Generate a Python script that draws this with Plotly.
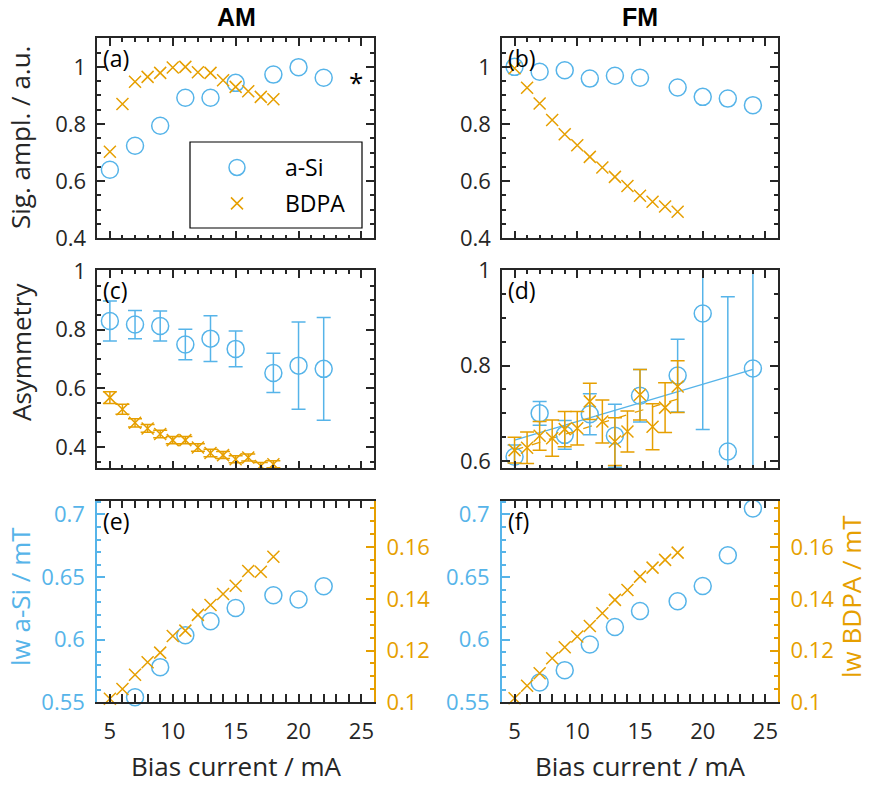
import plotly.graph_objects as go

# ---------------- data ----------------
current_bdpa = [5, 6, 7, 8, 9, 10, 11, 12, 13, 14, 15, 16, 17, 18]

# (a) AM signal amplitude
current_asi_am = [5, 7, 9, 11, 13, 15, 18, 20, 22]
amp_asi_am = [0.640, 0.724, 0.794, 0.892, 0.892, 0.944, 0.973, 0.999, 0.962]
amp_bdpa_am = [0.703, 0.870, 0.948, 0.965, 0.979, 0.998, 1.000, 0.981, 0.979,
               0.953, 0.930, 0.915, 0.895, 0.887]

# (b) FM signal amplitude
current_asi_fm = [5, 7, 9, 11, 13, 15, 18, 20, 22, 24]
amp_asi_fm = [1.000, 0.983, 0.988, 0.959, 0.969, 0.962, 0.928, 0.895, 0.889, 0.866]
amp_bdpa_fm = [0.995, 0.927, 0.872, 0.814, 0.764, 0.726, 0.685, 0.648, 0.615,
               0.583, 0.549, 0.528, 0.511, 0.493]

# (c) AM asymmetry
asym_asi_am = [0.829, 0.817, 0.812, 0.749, 0.769, 0.734, 0.652, 0.677, 0.666]
asym_asi_am_err = [0.068, 0.048, 0.051, 0.052, 0.078, 0.061, 0.067, 0.149, 0.175]
asym_bdpa_am = [0.568, 0.528, 0.482, 0.463, 0.444, 0.423, 0.423, 0.398, 0.379,
                0.372, 0.358, 0.364, 0.335, 0.341]
asym_bdpa_am_err = [0.020, 0.017, 0.014, 0.013, 0.013, 0.012, 0.012, 0.013, 0.013,
                    0.012, 0.012, 0.012, 0.012, 0.012]

# (d) FM asymmetry
asym_asi_fm = [0.609, 0.700, 0.655, 0.698, 0.653, 0.737, 0.779, 0.909, 0.620, 0.794]
asym_asi_fm_err = [0.025, 0.025, 0.030, 0.043, 0.066, 0.055, 0.076, 0.243, 0.324, 0.300]
asym_bdpa_fm = [0.623, 0.628, 0.653, 0.648, 0.667, 0.669, 0.725, 0.683, 0.641,
                0.662, 0.739, 0.672, 0.712, 0.756]
asym_bdpa_fm_err = [0.027, 0.033, 0.030, 0.038, 0.037, 0.035, 0.038, 0.045, 0.050,
                    0.043, 0.053, 0.048, 0.052, 0.054]
fit_asi_fm_x = [5, 24]
fit_asi_fm_y = [0.644, 0.792]
fit_bdpa_fm_x = [5, 18]
fit_bdpa_fm_y = [0.623, 0.730]

# (e) AM linewidths
current_lw_asi_am = [7, 9, 11, 13, 15, 18, 20, 22]
lw_asi_am = [0.554, 0.578, 0.6035, 0.6147, 0.6253, 0.6355, 0.632, 0.6427]
lw_bdpa_am = [0.1013, 0.1051, 0.1106, 0.1155, 0.1192, 0.1256, 0.1277, 0.1338,
              0.1376, 0.1419, 0.1451, 0.1508, 0.1505, 0.1563]

# (f) FM linewidths
current_lw_asi_fm = [7, 9, 11, 13, 15, 18, 20, 22, 24]
lw_asi_fm = [0.5657, 0.5756, 0.5961, 0.6101, 0.6229, 0.6307, 0.6429, 0.6674, 0.7047]
lw_bdpa_fm = [0.1015, 0.1064, 0.1112, 0.1170, 0.1213, 0.1254, 0.1295, 0.1344,
              0.1396, 0.1434, 0.1486, 0.1521, 0.1551, 0.1579]

panel_labels = ["(a)", "(b)", "(c)", "(d)", "(e)", "(f)"]
column_titles = ["AM", "FM"]

# ---------------- style ----------------
BLUE = "#56B4E9"
ORANGE = "#E69F00"
DARK = "#262626"
FONT = "Open Sans"
TICK_SIZE = 22
TITLE_SIZE = 26

W, H = 870, 785


def fx(px):
    return px / W


def fy(py):
    return 1 - py / H


col_x = [(97.3, 374.0), (502.0, 778.0)]
row_y = [(38.3, 238.3), (270.0, 468.3), (500.7, 702.2)]

circ = dict(symbol="circle-open", size=17, color=BLUE, line=dict(width=1.5, color=BLUE))
cross = dict(symbol="x-thin-open", size=12, color=ORANGE, line=dict(width=1.5, color=ORANGE))


def err(arr, color):
    return dict(type="data", array=arr, color=color, thickness=1.5, width=7, visible=True)


NB = "\u00a0"
fig = go.Figure()

# (a)
fig.add_trace(go.Scatter(x=current_asi_am, y=amp_asi_am, mode="markers", marker=circ,
                         name=NB * 3 + "a-Si", legendgroup="asi",
                         xaxis="x", yaxis="y", showlegend=True))
fig.add_trace(go.Scatter(x=current_bdpa, y=amp_bdpa_am, mode="markers", marker=cross,
                         name=NB * 3 + "BDPA", legendgroup="bdpa",
                         xaxis="x", yaxis="y", showlegend=True))
# (b)
fig.add_trace(go.Scatter(x=current_asi_fm, y=amp_asi_fm, mode="markers", marker=circ,
                         xaxis="x2", yaxis="y2", showlegend=False))
fig.add_trace(go.Scatter(x=current_bdpa, y=amp_bdpa_fm, mode="markers", marker=cross,
                         xaxis="x2", yaxis="y2", showlegend=False))
# (c)
fig.add_trace(go.Scatter(x=current_asi_am, y=asym_asi_am, mode="markers", marker=circ,
                         error_y=err(asym_asi_am_err, BLUE),
                         xaxis="x3", yaxis="y3", showlegend=False))
fig.add_trace(go.Scatter(x=current_bdpa, y=asym_bdpa_am, mode="markers", marker=cross,
                         error_y=err(asym_bdpa_am_err, ORANGE),
                         xaxis="x3", yaxis="y3", showlegend=False))
# (d)
fig.add_trace(go.Scatter(x=fit_asi_fm_x, y=fit_asi_fm_y, mode="lines",
                         line=dict(color=BLUE, width=1.3),
                         xaxis="x4", yaxis="y4", showlegend=False))
fig.add_trace(go.Scatter(x=fit_bdpa_fm_x, y=fit_bdpa_fm_y, mode="lines",
                         line=dict(color=ORANGE, width=1.3, dash="dash"),
                         xaxis="x4", yaxis="y4", showlegend=False))
fig.add_trace(go.Scatter(x=current_asi_fm, y=asym_asi_fm, mode="markers", marker=circ,
                         error_y=err(asym_asi_fm_err, BLUE),
                         xaxis="x4", yaxis="y4", showlegend=False))
fig.add_trace(go.Scatter(x=current_bdpa, y=asym_bdpa_fm, mode="markers", marker=cross,
                         error_y=err(asym_bdpa_fm_err, ORANGE),
                         xaxis="x4", yaxis="y4", showlegend=False))
# (e)
fig.add_trace(go.Scatter(x=current_lw_asi_am, y=lw_asi_am, mode="markers", marker=circ,
                         xaxis="x5", yaxis="y5", showlegend=False, cliponaxis=False))
fig.add_trace(go.Scatter(x=current_bdpa, y=lw_bdpa_am, mode="markers", marker=cross,
                         xaxis="x5", yaxis="y7", showlegend=False, cliponaxis=False))
# (f)
fig.add_trace(go.Scatter(x=current_lw_asi_fm, y=lw_asi_fm, mode="markers", marker=circ,
                         xaxis="x6", yaxis="y6", showlegend=False, cliponaxis=False))
fig.add_trace(go.Scatter(x=current_bdpa, y=lw_bdpa_fm, mode="markers", marker=cross,
                         xaxis="x6", yaxis="y8", showlegend=False, cliponaxis=False))


def axis(color=DARK, mirror="allticks", **kw):
    d = dict(showline=True, linecolor=color, linewidth=1.5, ticks="inside", ticklen=8,
             tickwidth=1.5, tickcolor=color, mirror=mirror, showgrid=False, zeroline=False,
             tickfont=dict(family=FONT, size=TICK_SIZE, color=color),
             automargin=False, layer="above traces")
    d.update(kw)
    return d


def minor(dt, color=DARK):
    return dict(dtick=dt, ticks="inside", ticklen=4, tickwidth=1.5, tickcolor=color, showgrid=False)


layout = dict(width=W, height=H, margin=dict(l=0, r=0, t=0, b=0),
              paper_bgcolor="white", plot_bgcolor="white",
              font=dict(family=FONT, size=TICK_SIZE, color=DARK))

# x axes
for i in range(6):
    r, c = divmod(i, 2)
    name = "xaxis" if i == 0 else f"xaxis{i + 1}"
    layout[name] = axis(domain=[fx(col_x[c][0]), fx(col_x[c][1])], range=[4, 26],
                        tick0=0, dtick=5, minor=minor(1),
                        anchor="y" if i == 0 else f"y{i + 1}",
                        showticklabels=(r == 2), ticklabelstandoff=9)

# y axes rows 1-2
yspec = {1: dict(range=[0.4, 1.1], dtick=0.2),
         2: dict(range=[0.4, 1.1], dtick=0.2),
         3: dict(range=[0.327, 1.003], dtick=0.2),
         4: dict(range=[0.585, 1.0], dtick=0.2)}
for i in range(1, 5):
    r, c = divmod(i - 1, 2)
    name = "yaxis" if i == 1 else f"yaxis{i}"
    layout[name] = axis(domain=[fy(row_y[r][1]), fy(row_y[r][0])], tick0=0,
                        minor=minor(0.05), anchor="x" if i == 1 else f"x{i}",
                        ticklabelstandoff=5, **yspec[i])

# bottom row: left (blue) and right (orange) axes
for i, c in ((5, 0), (6, 1)):
    layout[f"yaxis{i}"] = axis(color=BLUE, mirror=False,
                               domain=[fy(row_y[2][1]), fy(row_y[2][0])],
                               range=[0.55, 0.711], tick0=0, dtick=0.05,
                               minor=minor(0.01, BLUE), anchor=f"x{i}", linewidth=2,
                               ticklabelstandoff=6)
for i, base in ((7, 5), (8, 6)):
    layout[f"yaxis{i}"] = axis(color=ORANGE, mirror=False, overlaying=f"y{base}",
                               side="right", anchor=f"x{base}",
                               range=[0.1, 0.178], tick0=0, dtick=0.02,
                               minor=minor(0.005, ORANGE), linewidth=2,
                               ticklabelstandoff=6)

layout["legend"] = dict(x=fx(207), y=fy(146), xanchor="left", yanchor="top",
                        bgcolor="rgba(255,255,255,0)", borderwidth=0,
                        font=dict(family=FONT, size=23, color="black"),
                        itemwidth=50, traceorder="grouped", tracegroupgap=3)

fig.update_layout(**layout)

# legend frame
fig.add_shape(type="rect", xref="paper", yref="paper", x0=fx(190), x1=fx(362),
              y0=fy(228), y1=fy(142), line=dict(color="black", width=1.2))

ann = []
# panel labels
lab_pos = [(101, 40), (506, 40), (101, 272), (506, 272), (101, 503), (506, 503)]
for t, (px, py) in zip(panel_labels, lab_pos):
    ann.append(dict(text=t, x=fx(px), y=fy(py), xref="paper", yref="paper",
                    xanchor="left", yanchor="top", showarrow=False,
                    font=dict(family=FONT, size=TICK_SIZE + 1, color="black")))
ann.append(dict(text="*", x=fx(356), y=fy(82), xref="paper", yref="paper",
                xanchor="center", yanchor="middle",
                showarrow=False, font=dict(family=FONT, size=26, color="black")))
# column titles
for t, cx in zip(column_titles, (236, 640)):
    ann.append(dict(text=f"<b>{t}</b>", x=fx(cx), y=fy(17), xref="paper", yref="paper",
                    xanchor="center", yanchor="middle",
                    showarrow=False, font=dict(family="Liberation Sans", size=25, color="black")))
# axis titles
ytitles = [("Sig. ampl. / a.u.", 20, 138, DARK), ("Asymmetry", 21, 352, DARK),
           ("lw a-Si / mT", 20, 597, BLUE), ("lw BDPA / mT", 851, 597, ORANGE)]
for t, px, py, col in ytitles:
    ann.append(dict(text=t, x=fx(px), y=fy(py), textangle=-90,
                    xanchor="center", yanchor="middle",
                    xref="paper", yref="paper", showarrow=False,
                    font=dict(family=FONT, size=TITLE_SIZE, color=col)))
for cx in (236, 640):
    ann.append(dict(text="Bias current / mA", x=fx(cx), y=fy(766),
                    xanchor="center", yanchor="middle",
                    xref="paper", yref="paper", showarrow=False,
                    font=dict(family=FONT, size=TITLE_SIZE, color=DARK)))
fig.update_layout(annotations=ann)

fig.write_html("out.html")
